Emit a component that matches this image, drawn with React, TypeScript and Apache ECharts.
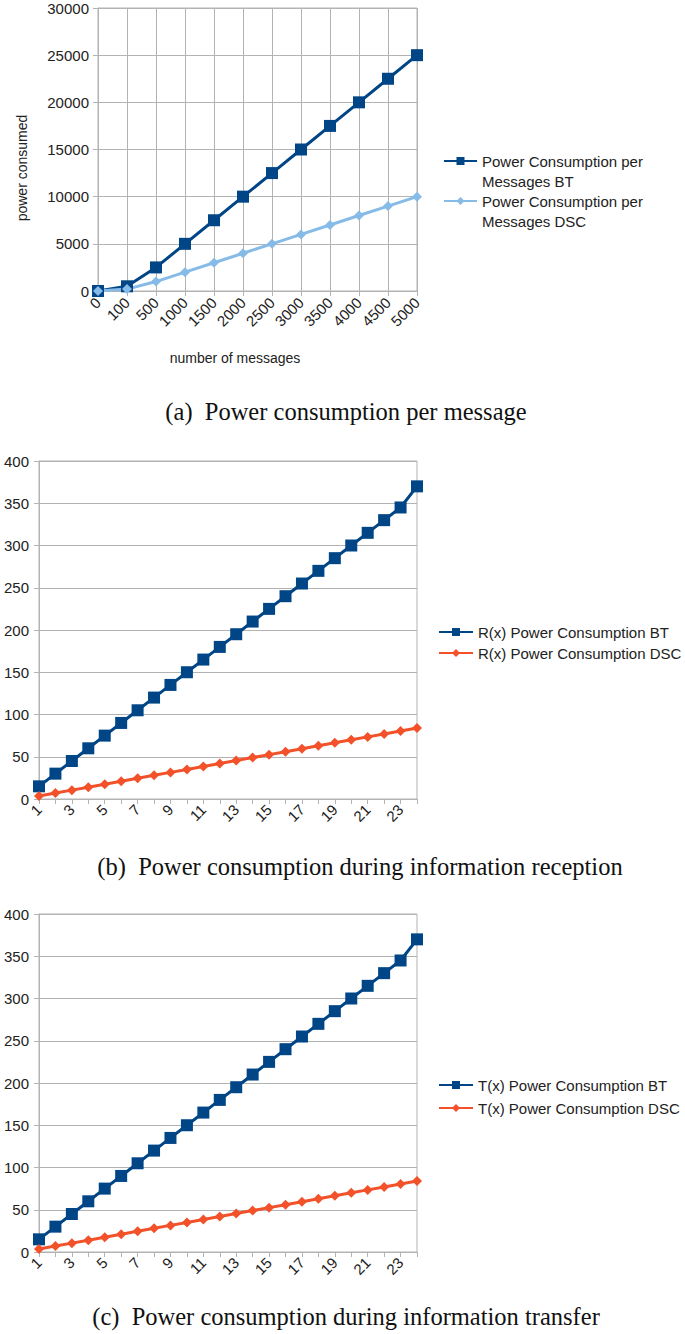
import React, { useEffect, useRef } from "react";
import * as echarts from "echarts";

// ---- Data ----
const msgCategories = ["0", "100", "500", "1000", "1500", "2000", "2500", "3000", "3500", "4000", "4500", "5000"];
const msgBT = [0, 500, 2500, 5000, 7500, 10000, 12500, 15000, 17500, 20000, 22500, 25000];
const msgDSC = [0, 200, 1000, 2000, 3000, 4000, 5000, 6000, 7000, 8000, 9000, 10000];

const hourCategories = ["1", "2", "3", "4", "5", "6", "7", "8", "9", "10", "11", "12", "13", "14", "15", "16", "17", "18", "19", "20", "21", "22", "23", "24"];
const recvBT = [15, 30, 45, 60, 75, 90, 105, 120, 135, 150, 165, 180, 195, 210, 225, 240, 255, 270, 285, 300, 315, 330, 345, 370];
const recvDSC = [3.5, 7, 10.5, 14, 17.5, 21, 24.5, 28, 31.5, 35, 38.5, 42, 45.5, 49, 52.5, 56, 59.5, 63, 66.5, 70, 73.5, 77, 80.5, 84];
const sendBT = [15, 30, 45, 60, 75, 90, 105, 120, 135, 150, 165, 180, 195, 210, 225, 240, 255, 270, 285, 300, 315, 330, 345, 370];
const sendDSC = [3.5, 7, 10.5, 14, 17.5, 21, 24.5, 28, 31.5, 35, 38.5, 42, 45.5, 49, 52.5, 56, 59.5, 63, 66.5, 70, 73.5, 77, 80.5, 84];

const nameA1 = "Power Consumption per Messages BT";
const nameA2 = "Power Consumption per Messages DSC";
const nameB1 = "R(x) Power Consumption BT";
const nameB2 = "R(x) Power Consumption DSC";
const nameC1 = "T(x) Power Consumption BT";
const nameC2 = "T(x) Power Consumption DSC";

const captionA = "(a)\u2002Power consumption per message";
const captionB = "(b)\u2002Power consumption during information reception";
const captionC = "(c)\u2002Power consumption during information transfer";

const BLUE = "#004586";
const LIGHT = "#86bbe8";
const ORANGE = "#f2512a";
const GRID = "#b3b3b3";
const TXT = "#222";
const SANS = "Liberation Sans";

function xAxisFor(gridIndex: number, data: string[], labelInterval: number, split: boolean, margin: number) {
  return {
    gridIndex,
    type: "category",
    data,
    boundaryGap: false,
    axisLine: { lineStyle: { color: GRID, width: 1 } },
    axisTick: { show: true, length: 5, interval: 0, lineStyle: { color: GRID } },
    axisLabel: { rotate: 45, interval: labelInterval, fontSize: 15, color: TXT, margin, fontFamily: SANS },
    splitLine: { show: split, interval: 0, lineStyle: { color: GRID, width: 1 } },
  };
}

function yAxisFor(gridIndex: number, max: number, interval: number, margin: number) {
  return {
    gridIndex,
    type: "value",
    min: 0,
    max,
    interval,
    axisLine: { show: true, lineStyle: { color: GRID, width: 1 } },
    axisTick: { show: true, length: 5, lineStyle: { color: GRID } },
    axisLabel: { fontSize: 15, color: TXT, margin, fontFamily: SANS, formatter: (v: number) => String(v) },
    splitLine: { show: true, lineStyle: { color: GRID, width: 1 } },
  };
}

function lineSeries(name: string, data: number[], idx: number, color: string, square: boolean) {
  return {
    name,
    type: "line",
    xAxisIndex: idx,
    yAxisIndex: idx,
    data,
    symbol: square ? "rect" : "diamond",
    symbolSize: square ? 12 : 10,
    showSymbol: true,
    showAllSymbol: true,
    lineStyle: { color, width: 3 },
    itemStyle: { color },
    emphasis: { disabled: true },
  };
}

export default function App() {
  const ref = useRef<HTMLDivElement>(null);
  useEffect(() => {
    if (!ref.current) return;
    const chart = echarts.init(ref.current, null, { renderer: "svg" });
    const option: any = {
      animation: false,
      backgroundColor: "#ffffff",
      textStyle: { fontFamily: SANS },
      grid: [
        { left: 98, top: 8, width: 319, height: 283, show: true, borderColor: GRID, borderWidth: 1, containLabel: false, outerBoundsMode: "none" },
        { left: 39, top: 461, width: 378, height: 338, show: true, borderColor: GRID, borderWidth: 1, containLabel: false, outerBoundsMode: "none" },
        { left: 39, top: 914, width: 378, height: 338, show: true, borderColor: GRID, borderWidth: 1, containLabel: false, outerBoundsMode: "none" },
      ],
      xAxis: [
        xAxisFor(0, msgCategories, 0, true, 9),
        xAxisFor(1, hourCategories, 1, false, 8),
        xAxisFor(2, hourCategories, 1, false, 8),
      ],
      yAxis: [yAxisFor(0, 30000, 5000, 9), yAxisFor(1, 400, 50, 10), yAxisFor(2, 400, 50, 10)],
      legend: [
        {
          data: [nameA1, nameA2],
          orient: "vertical",
          left: 443,
          top: 131,
          padding: 0,
          itemWidth: 33,
          itemHeight: 10,
          itemGap: -20,
          selectedMode: false,
          formatter: (n: string) => "\n" + n.replace(" Messages", "\nMessages"),
          textStyle: { fontSize: 15, color: TXT, lineHeight: 20, fontFamily: SANS },
        },
        {
          data: [nameB1, nameB2],
          orient: "vertical",
          left: 438,
          top: 621.5,
          padding: 0,
          itemWidth: 34,
          itemHeight: 10,
          itemGap: 0,
          selectedMode: false,
          textStyle: { fontSize: 15, color: TXT, lineHeight: 21, fontFamily: SANS },
        },
        {
          data: [nameC1, nameC2],
          orient: "vertical",
          left: 438,
          top: 1073.5,
          padding: 0,
          itemWidth: 34,
          itemHeight: 10,
          itemGap: 0,
          selectedMode: false,
          textStyle: { fontSize: 15, color: TXT, lineHeight: 23, fontFamily: SANS },
        },
      ],
      series: [
        lineSeries(nameA1, msgBT, 0, BLUE, true),
        lineSeries(nameA2, msgDSC, 0, LIGHT, false),
        lineSeries(nameB1, recvBT, 1, BLUE, true),
        lineSeries(nameB2, recvDSC, 1, ORANGE, false),
        lineSeries(nameC1, sendBT, 2, BLUE, true),
        lineSeries(nameC2, sendDSC, 2, ORANGE, false),
      ],
      graphic: [
        {
          type: "text",
          x: 22,
          y: 168,
          rotation: Math.PI / 2,
          style: { text: "power consumed", fontSize: 14, fill: TXT, fontFamily: SANS, align: "center", verticalAlign: "middle" },
        },
        {
          type: "text",
          x: 235,
          y: 358,
          style: { text: "number of messages", fontSize: 14, fill: TXT, fontFamily: SANS, align: "center", verticalAlign: "middle" },
        },
        {
          type: "text",
          x: 346,
          y: 411,
          style: { text: captionA, fontSize: 24.5, fill: "#111", fontFamily: "Liberation Serif", align: "center", verticalAlign: "middle" },
        },
        {
          type: "text",
          x: 360,
          y: 866,
          style: { text: captionB, fontSize: 24.5, fill: "#111", fontFamily: "Liberation Serif", align: "center", verticalAlign: "middle" },
        },
        {
          type: "text",
          x: 346,
          y: 1316,
          style: { text: captionC, fontSize: 24.5, fill: "#111", fontFamily: "Liberation Serif", align: "center", verticalAlign: "middle" },
        },
      ],
    };
    chart.setOption(option);
    return () => chart.dispose();
  }, []);
  return <div ref={ref} style={{ position: "absolute", left: 0, top: 0, width: 685, height: 1334 }} />;
}
